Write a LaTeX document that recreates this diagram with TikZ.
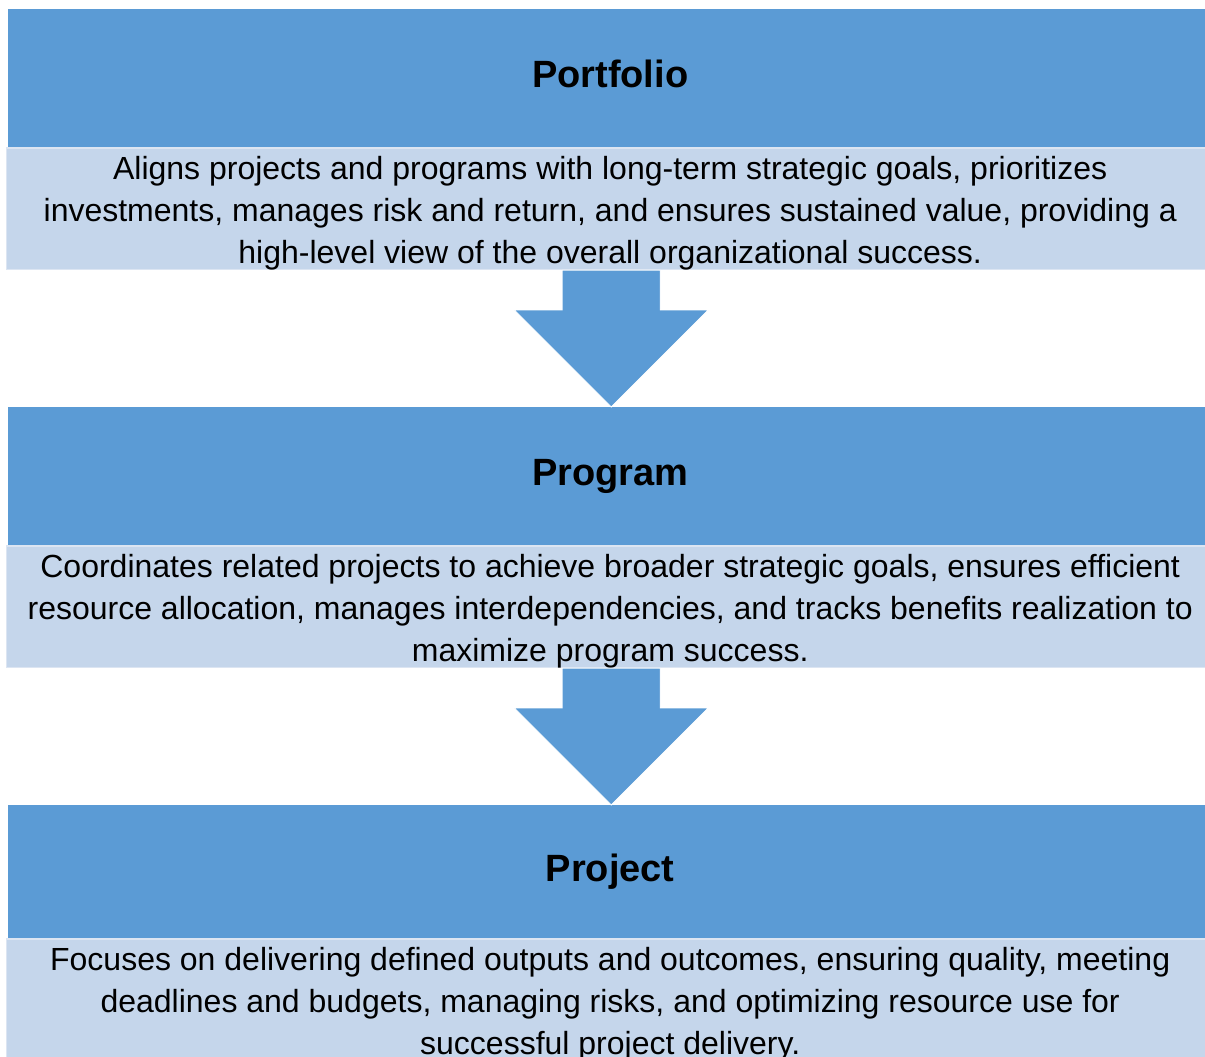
\documentclass[tikz,border=0pt]{standalone}
\usepackage{fontspec}
\setmainfont{Liberation Sans}
\usepackage{tikz}
\usetikzlibrary{positioning,calc}
\definecolor{headblue}{HTML}{5B9BD5}
\definecolor{bodyblue}{HTML}{C5D6EB}
\definecolor{bodyedge}{HTML}{DCE5F2}
\newcommand{\firstline}{\rule{0pt}{31pt}}
\tikzstyle{level} = [rectangle, fill=headblue, minimum width=1204pt, inner sep=0pt, text height=27pt, text depth=8pt, font=\fontsize{38}{42}\selectfont\bfseries, anchor=north west]
\tikzstyle{desc} = [rectangle, fill=bodyblue, draw=bodyedge, line width=1.2pt, minimum width=1207pt, minimum height=121pt, inner sep=0pt, align=center, font=\fontsize{32}{42}\selectfont]
\tikzstyle{blockarrow} = [fill=headblue, draw=white, line width=0.8pt]

\begin{document}
\begin{tikzpicture}[x=1pt, y=-1pt, node distance=0pt]
\useasboundingbox (0,0) rectangle (1205,1057);
\clip (0,0) rectangle (1205,1057);

\node(portfolio)    [level, minimum height=138pt] at (8,9)    {Portfolio};
\node(portdesc)     [desc, below=of portfolio]   {\firstline Aligns projects and programs with long-term strategic goals, prioritizes\\investments, manages risk and return, and ensures sustained value, providing a\\high-level view of the overall organizational success.};
\node(program)      [level, minimum height=138pt] at (8,407)  {Program};
\node(progdesc)     [desc, below=of program]     {\firstline Coordinates related projects to achieve broader strategic goals, ensures efficient\\resource allocation, manages interdependencies, and tracks benefits realization to\\maximize program success.};
\node(project)      [level, minimum height=133pt] at (8,805)  {Project};
\node(projdesc)     [desc, below=of project]     {\firstline Focuses on delivering defined outputs and outcomes, ensuring quality, meeting\\deadlines and budgets, managing risks, and optimizing resource use for\\successful project delivery.};

\draw [blockarrow] ($(portdesc.south)+(-48,0)$) -- ($(portdesc.south)+(50,0)$) -- ($(program.north)+(50,-97)$) -- ($(program.north)+(98,-97)$) -- ($(program.north)+(1,0)$) -- ($(program.north)+(-96,-97)$) -- ($(program.north)+(-48,-97)$) -- cycle;
\draw [blockarrow] ($(progdesc.south)+(-48,0)$) -- ($(progdesc.south)+(50,0)$) -- ($(project.north)+(50,-97)$) -- ($(project.north)+(98,-97)$) -- ($(project.north)+(1,0)$) -- ($(project.north)+(-96,-97)$) -- ($(project.north)+(-48,-97)$) -- cycle;

\end{tikzpicture}
\end{document}
